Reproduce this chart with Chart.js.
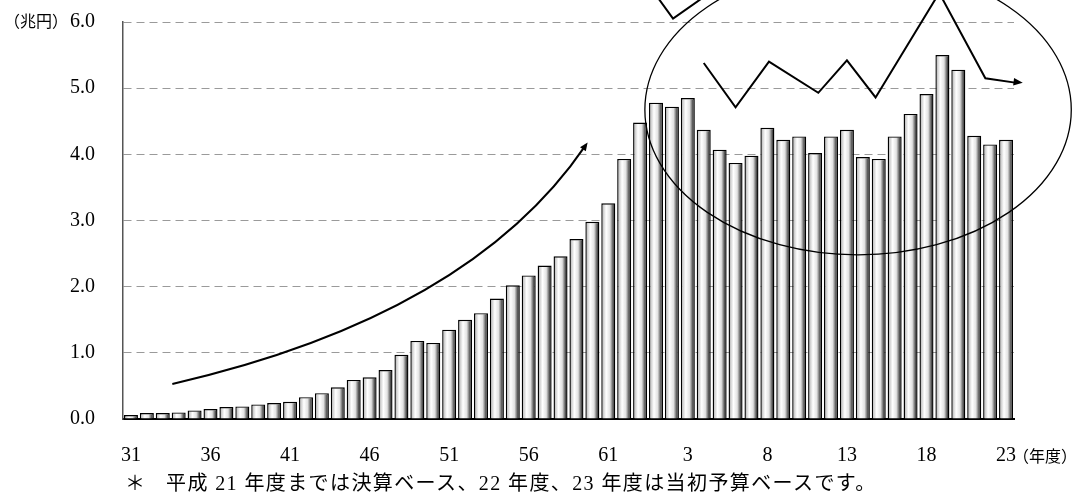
<!DOCTYPE html>
<html>
<head>
<meta charset="utf-8">
<script src="https://cdn.jsdelivr.net/npm/chart.js@4"></script>
<style>
  body { margin: 0; background: #fff; }
  #wrap { position: relative; width: 1080px; height: 501px; }
  #note { position: absolute; left: 0; top: 472px; font: 20px "Liberation Serif", "Noto Sans CJK JP"; color: #000; line-height: 22px; white-space: nowrap; }
  #note .mark { position: absolute; left: 125px; }
  #note .txt { position: absolute; left: 166px; letter-spacing: 1.4px; }
</style>
</head>
<body>
<div id="wrap">
  <canvas id="chart" width="1080" height="501"></canvas>
  <div id="note"><span class="mark">＊</span><span class="txt">平成 21 年度までは決算ベース、22 年度、23 年度は当初予算ベースです。</span></div>
</div>
<script>
// 年度 (昭和31〜63, 平成1〜23)
const years = [
  '31','32','33','34','35','36','37','38','39','40',
  '41','42','43','44','45','46','47','48','49','50',
  '51','52','53','54','55','56','57','58','59','60',
  '61','62','63','1','2','3','4','5','6','7',
  '8','9','10','11','12','13','14','15','16','17',
  '18','19','20','21','22','23'
];
// 兆円
const values = [
  0.06, 0.09, 0.09, 0.10, 0.13, 0.15, 0.18, 0.19, 0.22, 0.24,
  0.26, 0.33, 0.39, 0.48, 0.59, 0.63, 0.74, 0.97, 1.18, 1.15,
  1.35, 1.50, 1.60, 1.82, 2.02, 2.17, 2.32, 2.46, 2.72, 2.98,
  3.26, 3.93, 4.48, 4.78, 4.72, 4.85, 4.37, 4.07, 3.87, 3.98,
  4.40, 4.22, 4.27, 4.02, 4.27, 4.37, 3.96, 3.93, 4.27, 4.61,
  4.91, 5.50, 5.28, 4.28, 4.15, 4.22
];
const shownYears = ['31','36','41','46','51','56','61','3','8','13','18','23'];
const yTicks = [0, 1, 2, 3, 4, 5, 6];

// annotation shapes in (category index, value) units
const growthArrow = { from: [2.6, 0.53], ctrl: [21.3, 1.56], to: [28.7, 4.18] };
const ringBox = { left: 32.3, right: 59.1, bottom: 2.48, top: 6.87 };
const zigzag = [[36.0, 5.38], [38.0, 4.71], [40.1, 5.40], [43.2, 4.93], [45.0, 5.42], [46.8, 4.86], [50.8, 6.44], [53.7, 5.15], [56.05, 5.08]];
const topZig = [[32.3, 6.64], [34.07, 6.05], [37.55, 6.64]];

const serif = '"Liberation Serif", "Noto Sans CJK JP"';

function arrowHead(ctx, x0, y0, x1, y1, size) {
  const a = Math.atan2(y1 - y0, x1 - x0);
  ctx.beginPath();
  ctx.moveTo(x1, y1);
  ctx.lineTo(x1 - size * Math.cos(a - 0.4), y1 - size * Math.sin(a - 0.4));
  ctx.lineTo(x1 - size * Math.cos(a + 0.4), y1 - size * Math.sin(a + 0.4));
  ctx.closePath();
  ctx.fill();
}

const decorations = {
  id: 'decorations',
  afterDatasetsDraw(chart) {
    const { ctx } = chart;
    const xs = chart.scales.x, ys = chart.scales.y;
    const P = p => [xs.getPixelForValue(p[0]), ys.getPixelForValue(p[1])];
    ctx.save();
    ctx.strokeStyle = '#000';
    ctx.fillStyle = '#000';

    // curved growth arrow
    const a = P(growthArrow.from), c = P(growthArrow.ctrl), b = P(growthArrow.to);
    ctx.lineWidth = 2;
    ctx.beginPath();
    ctx.moveTo(a[0], a[1]);
    ctx.quadraticCurveTo(c[0], c[1], b[0] - 2, b[1] + 3);
    ctx.stroke();
    arrowHead(ctx, c[0], c[1], b[0], b[1], 9);

    // ellipse
    const l = xs.getPixelForValue(ringBox.left), r = xs.getPixelForValue(ringBox.right);
    const t = ys.getPixelForValue(ringBox.top), btm = ys.getPixelForValue(ringBox.bottom);
    ctx.lineWidth = 1.3;
    ctx.beginPath();
    ctx.ellipse((l + r) / 2, (t + btm) / 2, (r - l) / 2, (btm - t) / 2, 0, 0, Math.PI * 2);
    ctx.stroke();

    // zigzag with arrow
    ctx.lineWidth = 2;
    ctx.beginPath();
    zigzag.forEach((p, i) => {
      const q = P(p);
      if (i === zigzag.length - 1) { q[0] -= 6; }
      i === 0 ? ctx.moveTo(q[0], q[1]) : ctx.lineTo(q[0], q[1]);
    });
    ctx.stroke();
    const z0 = P(zigzag[zigzag.length - 2]), z1 = P(zigzag[zigzag.length - 1]);
    arrowHead(ctx, z0[0], z0[1], z1[0], z1[1], 10);

    // partial zigzag at the top edge
    ctx.beginPath();
    topZig.forEach((p, i) => {
      const q = P(p);
      i === 0 ? ctx.moveTo(q[0], q[1]) : ctx.lineTo(q[0], q[1]);
    });
    ctx.stroke();

    // unit labels
    ctx.font = '16px "Noto Sans CJK JP"';
    ctx.textBaseline = 'middle';
    ctx.textAlign = 'right';
    ctx.fillText('（兆円）', 68, ys.getPixelForValue(6) - 1);
    ctx.textAlign = 'left';
    ctx.fillText('（年度）', xs.getPixelForValue(years.length - 1) + 7, 456);
    ctx.restore();
  }
};

function barFill(context) {
  const chart = context.chart;
  const xs = chart.scales.x;
  if (!chart.chartArea || !xs) return '#ddd';
  const cx = xs.getPixelForValue(context.dataIndex);
  const half = xs.width / years.length * 0.88 / 2;
  const g = chart.ctx.createLinearGradient(cx - half, 0, cx + half, 0);
  g.addColorStop(0, '#a8a8a8');
  g.addColorStop(0.35, '#ffffff');
  g.addColorStop(0.62, '#e2e2e2');
  g.addColorStop(0.88, '#404040');
  g.addColorStop(1, '#1a1a1a');
  return g;
}

new Chart(document.getElementById('chart').getContext('2d'), {
  type: 'bar',
  data: {
    labels: years,
    datasets: [{
      data: values,
      backgroundColor: barFill,
      borderColor: '#000',
      borderWidth: 1.4,
      categoryPercentage: 1,
      barPercentage: 0.88
    }]
  },
  options: {
    responsive: false,
    animation: false,
    layout: { padding: { top: 22, right: 66, left: 0, bottom: 0 } },
    plugins: { legend: { display: false }, tooltip: { enabled: false } },
    scales: {
      x: {
        afterFit: s => { s.height = 82; s.paddingLeft = 0; s.paddingRight = 0; },
        grid: { display: false, drawTicks: false },
        border: { display: true, color: '#000', width: 2 },
        ticks: {
          autoSkip: false,
          maxRotation: 0,
          padding: 25,
          color: '#000',
          font: { family: serif, size: 20 },
          callback: (v, i) => shownYears.includes(years[i]) && i % 5 === 0 ? years[i] : ''
        }
      },
      y: {
        min: 0,
        max: 6,
        afterFit: s => { s.width = 123; s.paddingTop = 0; s.paddingBottom = 0; },
        afterBuildTicks: s => { s.ticks = yTicks.map(v => ({ value: v })); },
        grid: {
          drawTicks: false,
          color: c => c.tick && c.tick.value === 0 ? 'rgba(0,0,0,0)' : '#9a9a9a',
          lineWidth: 1
        },
        border: { display: true, color: '#555', width: 1.5, dash: [8, 5] },
        ticks: {
          padding: 28,
          color: '#000',
          font: { family: serif, size: 20 },
          callback: v => Number(v).toFixed(1)
        }
      }
    }
  },
  plugins: [decorations]
});
</script>
</body>
</html>
